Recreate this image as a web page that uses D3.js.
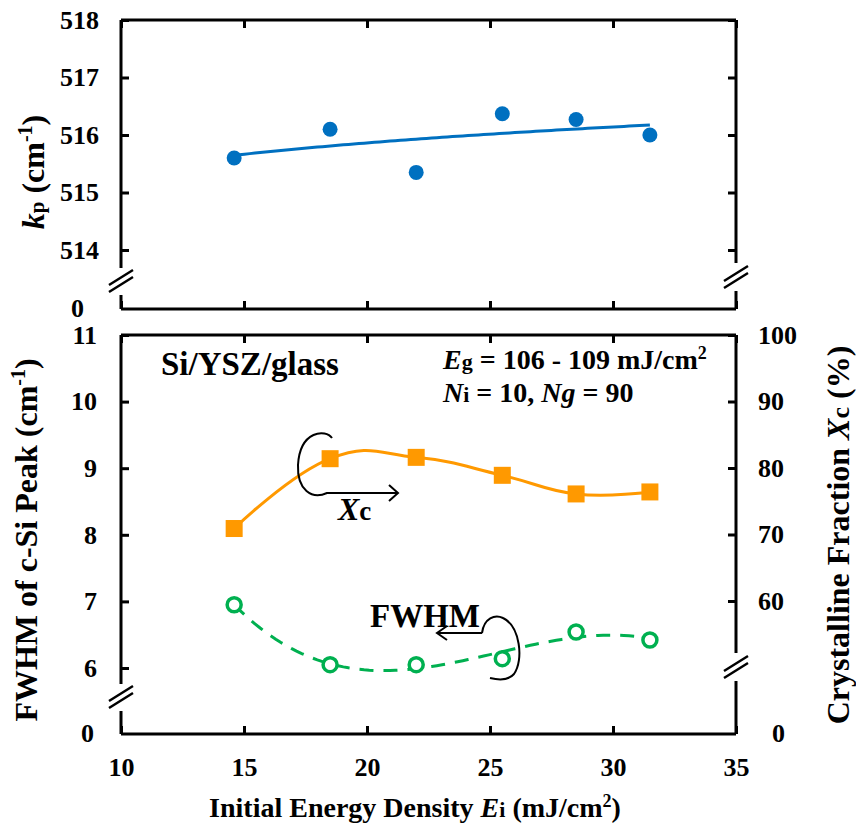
<!DOCTYPE html>
<html>
<head>
<meta charset="utf-8">
<script src="https://cdn.jsdelivr.net/npm/d3@7"></script>
<style>
  body { margin: 0; background: #fff; }
  svg text { font-family: "Liberation Serif", "Times New Roman", serif; font-weight: bold; fill: #000; }
</style>
</head>
<body>
<div id="chart"></div>
<script>
// ---- data ----
const energy = [14.6, 18.5, 22, 25.5, 28.5, 31.5];        // Ei (mJ/cm2)
const peakPos = [515.6, 516.1, 515.35, 516.37, 516.27, 516.0]; // kp (cm-1)
const crystFrac = [70.9, 81.4, 81.6, 78.9, 76.1, 76.4];    // Xc (%)
const fwhm = [6.95, 6.05, 6.05, 6.14, 6.54, 6.42];          // FWHM (cm-1)

const xTicks = [10, 15, 20, 25, 30, 35];
const kpTicks = [514, 515, 516, 517, 518];
const fwhmTicks = [6, 7, 8, 9, 10, 11];
const xcTicks = [60, 70, 80, 90, 100];

const width = 856, height = 830;
const blue = "#0070C0", orange = "#FF9900", green = "#00B050";
const serif = '"Liberation Serif", "Times New Roman", serif';

// ---- regression helpers (trend lines) ----
function polyFit(xs, ys, order) {
  const n = order + 1;
  const m = d3.mean(xs);
  const A = [];
  for (let i = 0; i < n; i++) {
    A.push([]);
    for (let j = 0; j < n; j++) A[i].push(d3.sum(xs, x => Math.pow(x - m, i + j)));
    A[i].push(d3.sum(xs, (x, k) => ys[k] * Math.pow(x - m, i)));
  }
  for (let c = 0; c < n; c++) {
    let p = c;
    for (let r = c + 1; r < n; r++) if (Math.abs(A[r][c]) > Math.abs(A[p][c])) p = r;
    [A[c], A[p]] = [A[p], A[c]];
    for (let r = 0; r < n; r++) {
      if (r === c) continue;
      const f = A[r][c] / A[c][c];
      for (let k = c; k <= n; k++) A[r][k] -= f * A[c][k];
    }
  }
  const coef = A.map((row, i) => row[n] / row[i]);
  return x => d3.sum(coef, (c, i) => c * Math.pow(x - m, i));
}
function logFit(xs, ys) {
  const f = polyFit(xs.map(Math.log), ys, 1);
  return x => f(Math.log(x));
}
function sample(f, x0, x1) {
  return d3.range(0, 81).map(i => { const x = x0 + (x1 - x0) * i / 80; return [x, f(x)]; });
}

// ---- scales ----
const x = d3.scaleLinear().domain([10, 35]).range([121, 736]);
const yTop = d3.scaleLinear().domain([514, 518]).range([250, 20]);
const yL = d3.scaleLinear().domain([6, 11]).range([668, 335]);
const yR = d3.scaleLinear().domain([60, 100]).range([601, 335]);

const top1 = 20, bot1 = 309, top2 = 335, bot2 = 734;

const svg = d3.select("#chart").append("svg")
  .attr("width", width).attr("height", height);

// ---- frames with axis breaks ----
function frame(t, b, breakL, breakR) {
  const g = svg.append("g").attr("fill", "none").attr("stroke", "#000").attr("stroke-width", 3);
  const l = x.range()[0], r = x.range()[1];
  g.append("path").attr("d", `M${l},${t}H${r}M${l},${b}H${r}`);
  g.append("path").attr("d", `M${l},${t}V${breakL - 13}M${l},${breakL + 14}V${b}`);
  g.append("path").attr("d", `M${r},${t}V${breakR - 14}M${r},${breakR + 14}V${b}`);
  [[l, breakL], [r, breakR]].forEach(([cx, cy]) => {
    g.append("path").attr("stroke-width", 2.5)
      .attr("d", `M${cx - 12},${cy + 4}L${cx + 12},${cy - 11}M${cx - 12},${cy + 11}L${cx + 12},${cy - 4}`);
  });
}
frame(top1, bot1, 281, 277);
frame(top2, bot2, 697, 667);

// ---- axes (inward ticks) ----
function styleAxis(g) {
  g.attr("font-family", serif).attr("font-size", 26);
  g.select(".domain").remove();
  g.selectAll(".tick line").attr("stroke", "#000").attr("stroke-width", 3);
  g.selectAll("text").attr("font-family", serif).style("font-size", "26px");
}
const fmt = d3.format("d");
svg.append("g").attr("transform", `translate(${x.range()[0]},0)`)
  .call(d3.axisLeft(yTop).tickValues(kpTicks).tickSize(-8).tickPadding(22).tickFormat(fmt)).call(styleAxis);
svg.append("g").attr("transform", `translate(${x.range()[1]},0)`)
  .call(d3.axisRight(yTop).tickValues(kpTicks).tickSize(-8).tickFormat("")).call(styleAxis);
svg.append("g").attr("transform", `translate(0,${top1})`)
  .call(d3.axisTop(x).tickValues(xTicks).tickSize(-8).tickFormat("")).call(styleAxis);
svg.append("g").attr("transform", `translate(0,${bot1})`)
  .call(d3.axisBottom(x).tickValues(xTicks).tickSize(-8).tickFormat("")).call(styleAxis);

svg.append("g").attr("transform", `translate(${x.range()[0]},0)`)
  .call(d3.axisLeft(yL).tickValues(fwhmTicks).tickSize(-8).tickPadding(24).tickFormat(fmt)).call(styleAxis);
svg.append("g").attr("transform", `translate(${x.range()[1]},0)`)
  .call(d3.axisRight(yR).tickValues(xcTicks).tickSize(-8).tickPadding(22).tickFormat(fmt)).call(styleAxis);
svg.append("g").attr("transform", `translate(0,${top2})`)
  .call(d3.axisTop(x).tickValues(xTicks).tickSize(-8).tickFormat("")).call(styleAxis);
svg.append("g").attr("transform", `translate(0,${bot2})`)
  .call(d3.axisBottom(x).tickValues(xTicks).tickSize(-8).tickPadding(24).tickFormat(fmt)).call(styleAxis);

// zero labels below the breaks
const zeros = [[84, bot1, "end"], [94, bot2, "end"], [772, bot2, "start"]];
svg.selectAll("text.zero").data(zeros).join("text").attr("class", "zero")
  .attr("x", d => d[0]).attr("y", d => d[1]).attr("dy", "0.32em")
  .attr("text-anchor", d => d[2]).style("font-size", "26px").text("0");

// ---- top panel: kp with log trend line ----
const kpFit = logFit(energy, peakPos);
svg.append("path").datum(sample(kpFit, energy[0], energy[energy.length - 1]))
  .attr("fill", "none").attr("stroke", blue).attr("stroke-width", 3)
  .attr("d", d3.line().x(d => x(d[0])).y(d => yTop(d[1])));
svg.selectAll("circle.kp").data(energy).join("circle").attr("class", "kp")
  .attr("cx", d => x(d)).attr("cy", (d, i) => yTop(peakPos[i])).attr("r", 7.5).attr("fill", blue);

// ---- bottom panel: Xc (smoothed line) and FWHM (trend) ----
svg.append("path").datum(energy.map((d, i) => [d, crystFrac[i]]))
  .attr("fill", "none").attr("stroke", orange).attr("stroke-width", 3)
  .attr("d", d3.line().x(d => x(d[0])).y(d => yR(d[1])).curve(d3.curveCardinal.tension(-0.3)));
svg.selectAll("rect.xc").data(energy).join("rect").attr("class", "xc")
  .attr("x", d => x(d) - 8.5).attr("y", (d, i) => yR(crystFrac[i]) - 8.5)
  .attr("width", 17).attr("height", 17).attr("fill", orange);

const fwFit = polyFit(energy, fwhm, 3);
svg.append("path").datum(sample(fwFit, energy[0], energy[energy.length - 1]))
  .attr("fill", "none").attr("stroke", green).attr("stroke-width", 3)
  .attr("stroke-dasharray", "14,10")
  .attr("d", d3.line().x(d => x(d[0])).y(d => yL(d[1])));
svg.selectAll("circle.fw").data(energy).join("circle").attr("class", "fw")
  .attr("cx", d => x(d)).attr("cy", (d, i) => yL(fwhm[i])).attr("r", 7)
  .attr("fill", "#fff").attr("stroke", green).attr("stroke-width", 3.5);

// ---- annotations ----
const ann = svg.append("g").attr("fill", "none").attr("stroke", "#000").attr("stroke-width", 2);
ann.append("path").attr("d", "M332,438 C326,429 300,430 298,465 C297,490 312,500 327,493 L398,493 M389,485 L398,493 L389,501");
ann.append("path").attr("d", "M482,633 C484,618 495,614 503,618 C520,626 524,660 514,674 C508,681 498,680 490,678 M482,633 L437,633 M447,626 L437,633 L447,640");

svg.append("text").attr("x", 338).attr("y", 520).style("font-size", "32px")
  .call(t => { t.append("tspan").style("font-style", "italic").text("X"); t.append("tspan").style("font-size", "27px").text("c"); });
svg.append("text").attr("x", 370).attr("y", 627).style("font-size", "33px").text("FWHM");
svg.append("text").attr("x", 161).attr("y", 375).style("font-size", "33px").text("Si/YSZ/glass");
svg.append("text").attr("x", 443).attr("y", 369).style("font-size", "28px")
  .call(t => {
    t.append("tspan").style("font-style", "italic").text("E");
    t.append("tspan").style("font-size", "22px").text("g");
    t.append("tspan").text(" = 106 - 109 mJ/cm");
    t.append("tspan").style("font-size", "18px").attr("dy", "-10").text("2");
  });
svg.append("text").attr("x", 443).attr("y", 402).style("font-size", "28px")
  .call(t => {
    t.append("tspan").style("font-style", "italic").text("N");
    t.append("tspan").style("font-size", "22px").text("i");
    t.append("tspan").text(" = 10, ");
    t.append("tspan").style("font-style", "italic").text("Ng");
    t.append("tspan").text(" = 90");
  });

// ---- axis titles ----
svg.append("text").attr("transform", "translate(44,172) rotate(-90)").attr("text-anchor", "middle")
  .style("font-size", "32px")
  .call(t => {
    t.append("tspan").style("font-style", "italic").text("k");
    t.append("tspan").style("font-size", "21px").text("p");
    t.append("tspan").text(" (cm");
    t.append("tspan").style("font-size", "20px").attr("dy", "-12").text("-1");
    t.append("tspan").attr("dy", "12").text(")");
  });
svg.append("text").attr("transform", "translate(37,540) rotate(-90)").attr("text-anchor", "middle")
  .style("font-size", "32px")
  .call(t => {
    t.append("tspan").text("FWHM of c-Si Peak (cm");
    t.append("tspan").style("font-size", "20px").attr("dy", "-12").text("-1");
    t.append("tspan").attr("dy", "12").text(")");
  });
svg.append("text").attr("transform", "translate(849,535) rotate(-90)").attr("text-anchor", "middle")
  .style("font-size", "32px")
  .call(t => {
    t.append("tspan").text("Crystalline Fraction ");
    t.append("tspan").style("font-style", "italic").text("X");
    t.append("tspan").style("font-size", "26px").text("c");
    t.append("tspan").text(" (%)");
  });
svg.append("text").attr("x", 415).attr("y", 817).attr("text-anchor", "middle")
  .style("font-size", "28px")
  .call(t => {
    t.append("tspan").text("Initial Energy Density ");
    t.append("tspan").style("font-style", "italic").text("E");
    t.append("tspan").style("font-size", "22px").text("i");
    t.append("tspan").text(" (mJ/cm");
    t.append("tspan").style("font-size", "18px").attr("dy", "-10").text("2");
    t.append("tspan").attr("dy", "10").text(")");
  });
</script>
</body>
</html>
